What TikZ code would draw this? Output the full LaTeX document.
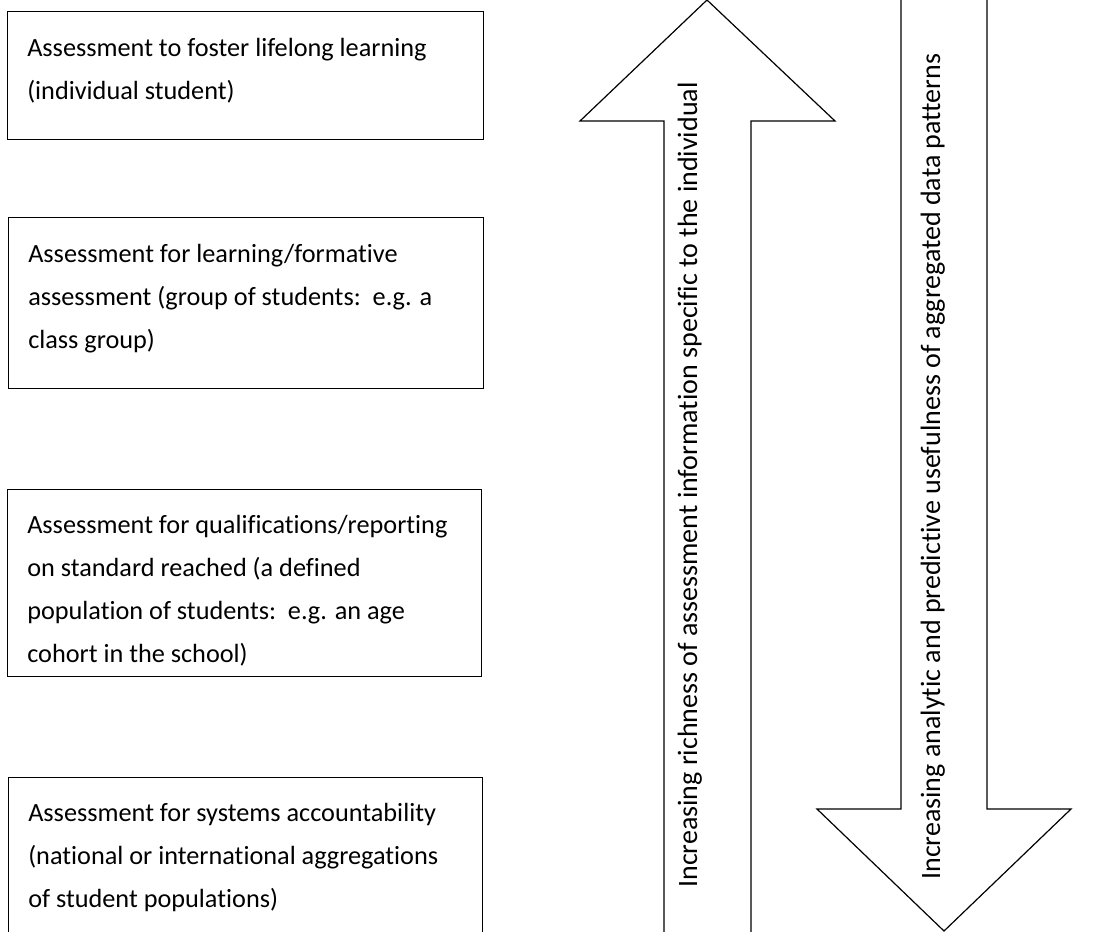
\documentclass[tikz,border=0pt]{standalone}
\usepackage{fontspec}
\setmainfont{Carlito}[Ligatures={NoCommon}]
\begin{document}
\begin{tikzpicture}[x=0.75pt,y=-0.75pt,
  box/.style={draw, line width=1pt, rectangle, inner sep=0pt, anchor=north west},
  boxtext/.style={anchor=base west, align=left, inner sep=0pt, font=\fontsize{19.7}{32.1}\selectfont},
  arrowshape/.style={draw, line width=0.9pt, fill=white, line join=miter},
  arrowtext/.style={rotate=90, anchor=base west, inner sep=0pt, font=\fontsize{21}{25}\selectfont}]
\useasboundingbox (0,0) rectangle (1102,931);
\clip (0,0) rectangle (1102,931);
\fill[white] (0,0) rectangle (1102,931);
% boxes
\node[box, minimum width=476*0.75pt, minimum height=128*0.75pt] (b1) at (7,11) {};
\node[box, minimum width=475*0.75pt, minimum height=171*0.75pt] (b2) at (8,217) {};
\node[box, minimum width=474*0.75pt, minimum height=187*0.75pt] (b3) at (7,489) {};
\node[box, minimum width=474*0.75pt, minimum height=200*0.75pt] (b4) at (8,777) {};
% text nodes: base anchor is the baseline of the last line
\node[boxtext] (t1) at (27,99.3) {Assessment to foster lifelong learning\\(individual student)};
\node[boxtext] (t2) at (28,348.3) {Assessment for learning/formative\\assessment (group of students:\ \ e.g. a\\class group)};
\node[boxtext] (t3) at (27,662.3) {Assessment for qualifications/reporting\\on standard reached (a defined\\population of students:\ \ e.g. an age\\cohort in the school)};
\node[boxtext] (t4) at (28,907.3) {Assessment for systems accountability\\(national or international aggregations\\of student populations)};
% up arrow
\draw[arrowshape] (707,0) -- (835,121) -- (751,121) -- (751,945) -- (664,945) -- (664,121) -- (580,121) -- cycle;
% down arrow
\draw[arrowshape] (901,-15) -- (901,809) -- (817,809) -- (944,931) -- (1071,809) -- (987,809) -- (987,-15) -- cycle;
\node[arrowtext] (a1) at (697,888) {Increasing richness of assessment information specific to the individual};
\node[arrowtext] (a2) at (940,880) {Increasing analytic and predictive usefulness of aggregated data patterns};
\end{tikzpicture}
\end{document}
